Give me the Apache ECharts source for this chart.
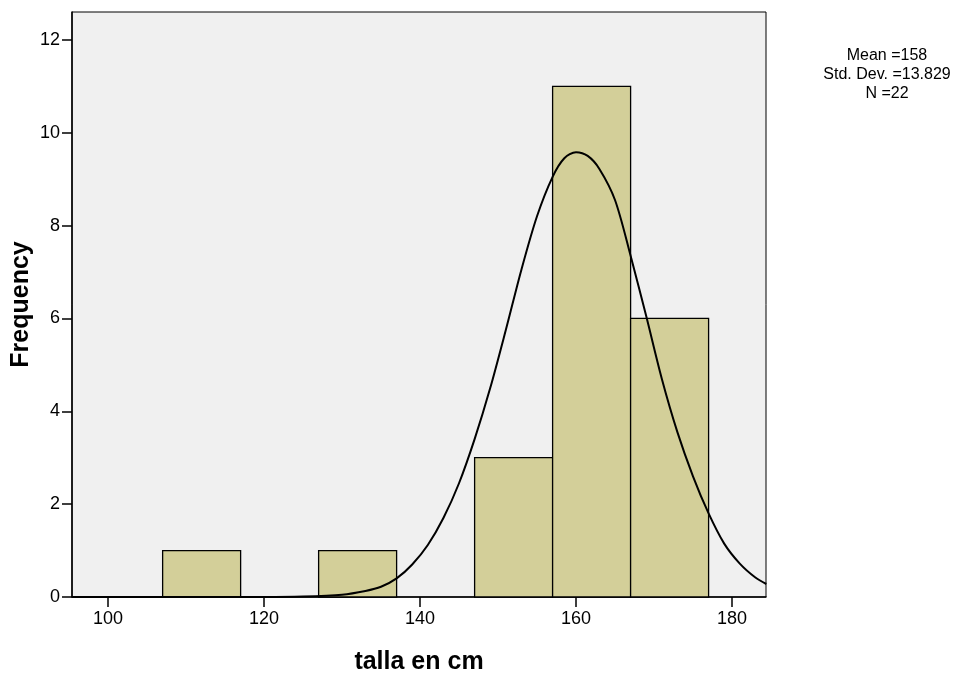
<!DOCTYPE html>
<html>
<head>
<meta charset="utf-8">
<script src="https://cdn.jsdelivr.net/npm/echarts@6/dist/echarts.min.js"></script>
<style>
  html, body { margin: 0; padding: 0; background: #fff; }
  #chart { width: 967px; height: 674px; }
</style>
</head>
<body>
<div id="chart"></div>
<script>
// Histogram of height (talla en cm), bins of 10 cm
const binEdges = [107, 117, 127, 137, 147, 157, 167, 177];
const binCounts = [1, 0, 1, 0, 3, 11, 6];

// Fitted normal curve, sampled points (x in cm, y in frequency)
const curveX = [95.4, 100, 110, 120, 125, 130, 133, 135, 137, 139, 141, 143, 145, 147, 149, 151, 153, 155, 157, 158.5, 160, 161.5, 163, 165, 167, 169, 171, 173, 175, 177, 179, 181, 183, 184.4];
const curveY = [0, 0, 0, 0, 0.01, 0.05, 0.13, 0.22, 0.40, 0.70, 1.12, 1.70, 2.45, 3.40, 4.50, 5.75, 7.05, 8.20, 9.05, 9.45, 9.58, 9.50, 9.22, 8.55, 7.35, 6.05, 4.70, 3.55, 2.60, 1.80, 1.15, 0.72, 0.42, 0.28];

const xTicks = [100, 120, 140, 160, 180];
const yTicks = [0, 2, 4, 6, 8, 10, 12];
const statsLines = ['Mean =158', 'Std. Dev. =13.829', 'N =22'];

const bars = [];
for (let i = 0; i < binCounts.length; i++) {
  if (binCounts[i] > 0) bars.push([binEdges[i], binEdges[i + 1], binCounts[i]]);
}
const curve = curveX.map((x, i) => [x, curveY[i]]);

const FONT = '"Liberation Sans", Arial, sans-serif';
const chart = echarts.init(document.getElementById('chart'), null, { renderer: 'canvas' });

chart.setOption({
  animation: false,
  backgroundColor: '#ffffff',
  grid: {
    left: 72, right: 201, top: 12, bottom: 77,
    outerBoundsMode: 'none', containLabel: false,
    show: true, backgroundColor: '#f0f0f0', borderColor: '#000', borderWidth: 1
  },
  xAxis: {
    type: 'value', min: 95.38, max: 184.36,
    name: 'talla en cm', nameLocation: 'middle', nameGap: 53, nameMoveOverlap: false,
    nameTextStyle: { fontFamily: FONT, fontSize: 25, fontWeight: 'bold', color: '#000' },
    axisLine: { show: true, lineStyle: { color: '#000', width: 1.5 } },
    axisTick: { show: true, inside: false, length: 10, lineStyle: { color: '#000', width: 1.5 }, customValues: xTicks },
    axisLabel: { fontFamily: FONT, fontSize: 18, color: '#000', margin: 13, customValues: xTicks },
    splitLine: { show: false }
  },
  yAxis: {
    type: 'value', min: 0, max: 12.6,
    name: 'Frequency', nameLocation: 'middle', nameGap: 38, nameRotate: 90, nameMoveOverlap: false,
    nameTextStyle: { fontFamily: FONT, fontSize: 25, fontWeight: 'bold', color: '#000' },
    axisLine: { show: true, lineStyle: { color: '#000', width: 1.5 } },
    axisTick: { show: true, inside: false, length: 10, lineStyle: { color: '#000', width: 1.5 }, customValues: yTicks },
    axisLabel: { fontFamily: FONT, fontSize: 18, color: '#000', margin: 12, customValues: yTicks },
    splitLine: { show: false }
  },
  graphic: [{
    type: 'text', x: 887, y: 46,
    style: {
      text: statsLines.join('\n'), font: '16px ' + FONT, fill: '#000',
      align: 'center', lineHeight: 19
    }
  }],
  series: [
    {
      type: 'custom',
      data: bars,
      z: 2,
      renderItem: function (params, api) {
        const p0 = api.coord([api.value(0), 0]);
        const p1 = api.coord([api.value(1), api.value(2)]);
        return {
          type: 'rect',
          shape: { x: p0[0], y: p1[1], width: p1[0] - p0[0], height: p0[1] - p1[1] },
          style: { fill: '#d3cf99', stroke: '#000', lineWidth: 1.3 }
        };
      },
      encode: { x: [0, 1], y: 2 }
    },
    {
      type: 'line',
      data: curve,
      smooth: 0.3,
      showSymbol: false,
      z: 3,
      lineStyle: { color: '#000', width: 2 }
    }
  ]
});
</script>
</body>
</html>
